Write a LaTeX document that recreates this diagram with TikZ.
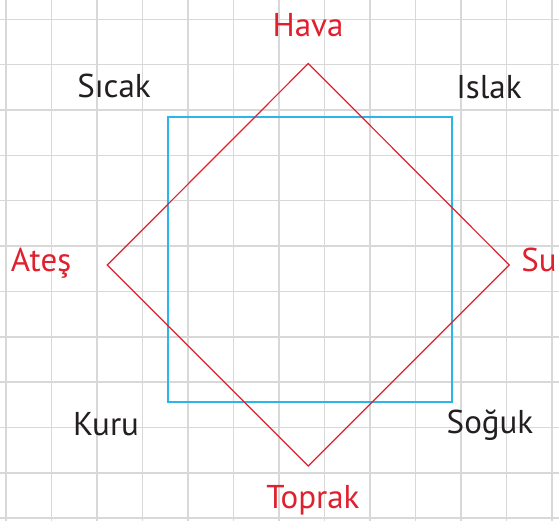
\documentclass[tikz,border=0pt]{standalone}
\usepackage{fontspec}
\setmainfont{PT Sans}
\definecolor{gridc}{HTML}{D8D8D8}
\definecolor{redc}{HTML}{E0202E}
\definecolor{bluec}{HTML}{2BB5E8}
\definecolor{inkc}{HTML}{231F20}
\tikzset{
  gridline/.style={draw=gridc, line width=1.5pt},
  lbl/.style={anchor=base, inner sep=0pt, font=\fontsize{33}{33}\selectfont},
  redlbl/.style={lbl, text=redc},
  blklbl/.style={lbl, text=inkc},
  diam/.style={draw=redc, line width=1.2pt, line join=miter},
  quad/.style={draw=bluec, line width=1.8pt}
}
\begin{document}
\begin{tikzpicture}[x=1pt,y=-1pt]
\useasboundingbox (0,0) rectangle (559,521);
\fill[white] (0,0) rectangle (559,521);
% grid
\foreach \k in {0,...,12} {
  \draw[gridline] ({6+45.5*\k},0) -- ({6+45.5*\k},521);
}
\foreach \k in {0,...,11} {
  \draw[gridline] (0,{19.3+45.35*\k}) -- (559,{19.3+45.35*\k});
}
% blue square
\coordinate (q1) at (167.7,117.3);
\coordinate (q2) at (452.3,117.3);
\coordinate (q3) at (452.3,401.7);
\coordinate (q4) at (167.7,401.7);
\draw[quad] (q1) -- (q2) -- (q3) -- (q4) -- cycle;
% red diamond
\coordinate (dt) at (308.3,63.5);
\coordinate (dr) at (509.3,265);
\coordinate (db) at (308.3,466);
\coordinate (dl) at (107.3,265);
\draw[diam] (dt) -- (dr) -- (db) -- (dl) -- cycle;
% labels
\node[redlbl] (hava) at (308,37) {Hava};
\node[redlbl] (ates) at (41,272) {Ateş};
\node[redlbl] (su) at (539,272) {Su};
\node[redlbl] (toprak) at (313,508) {Toprak};
\node[blklbl] (sicak) at (114,98) {Sıcak};
\node[blklbl] (islak) at (489,99) {Islak};
\node[blklbl] (kuru) at (106,435) {Kuru};
\node[blklbl] (soguk) at (490,433) {Soğuk};
\end{tikzpicture}
\end{document}
